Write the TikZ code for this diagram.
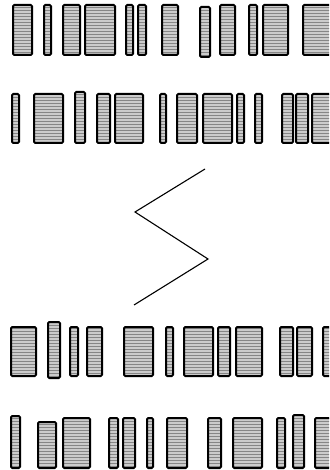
\documentclass[tikz,border=0pt]{standalone}
\usepackage{tikz}
\usetikzlibrary{patterns}

\tikzset{
  bar/.style={draw=black,line width=2pt,rounded corners=1.2pt,
    preaction={fill=gray!40},pattern=horizontal lines,pattern color=gray!95},
  zigzag/.style={line width=1.1pt}
}

\begin{document}
\begin{tikzpicture}[x=1pt,y=-1pt]
  \useasboundingbox (0,0) rectangle (329,470);
  \clip (0,0) rectangle (329,470);
  % first row
  \foreach \a/\b/\t/\u in {13/32/5/55,44/51/5/55,63/80/5/55,85/115/5/55,126/133/5/55,138/146/5/55,
                           162/178/5/55,200/210/7/57,220/235/5/55,249/257/5/55,263/288/5/55,303/334/5/55} {
    \draw[bar] (\a,\t) rectangle (\b,\u);
  }
  % second row
  \foreach \a/\b/\t/\u in {12/19/94/143,34/63/94/143,75/85/92/143,97/110/94/143,115/143/94/143,160/166/94/143,
                           177/197/94/143,203/232/94/143,237/244/94/143,255/262/94/143,282/293/94/143,296/308/94/143,312/334/94/143} {
    \draw[bar] (\a,\t) rectangle (\b,\u);
  }
  % break mark
  \draw[zigzag] (205,169) -- (135,212) -- (208,259) -- (134,305);
  % third row
  \foreach \a/\b/\t/\u in {11/36/327/376,48/60/322/378,70/78/327/376,87/102/327/376,124/153/327/376,166/173/327/376,
                           184/213/327/376,218/230/327/376,236/262/327/376,280/293/327/376,297/312/327/376,323/334/327/376} {
    \draw[bar] (\a,\t) rectangle (\b,\u);
  }
  % fourth row
  \foreach \a/\b/\t/\u in {11/20/416/468,38/56/422/468,63/90/418/468,109/118/418/468,123/135/418/468,147/153/418/468,
                           167/187/418/468,208/221/418/468,233/262/418/468,277/285/418/468,293/304/415/468,315/334/418/468} {
    \draw[bar] (\a,\t) rectangle (\b,\u);
  }
\end{tikzpicture}
\end{document}
